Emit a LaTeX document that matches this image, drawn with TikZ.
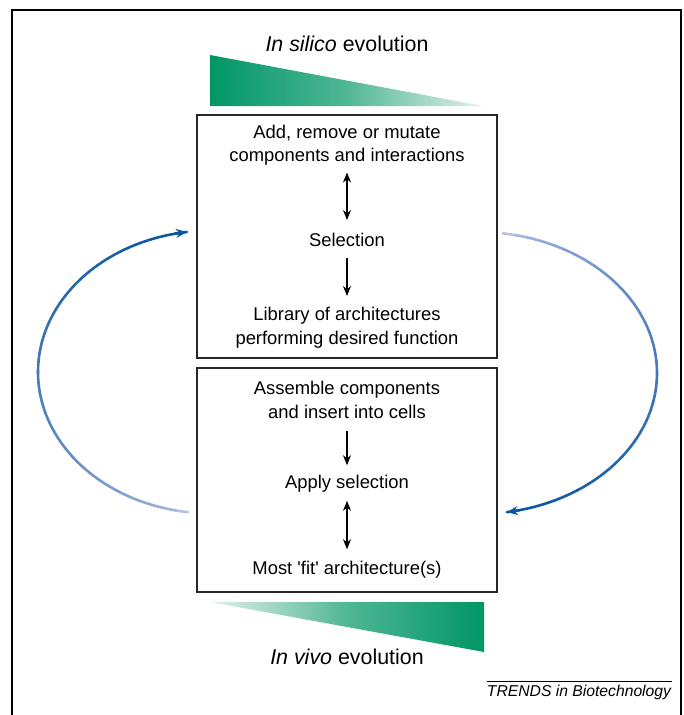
\documentclass[tikz,border=0pt]{standalone}
\usepackage{fontspec}
\setmainfont{Liberation Sans}
\usetikzlibrary{arrows.meta,positioning}

\definecolor{evogreen}{RGB}{0,150,102}
\definecolor{evopale}{RGB}{228,242,235}
\definecolor{loopblue}{RGB}{10,85,160}
\definecolor{looppale}{RGB}{182,192,228}

\tikzset{
  stage/.style={draw=black!85, line width=1.3pt, inner sep=0pt},
  steptext/.style={align=center, inner sep=0pt, font=\fontsize{18.4}{23.5}\selectfont},
  flow/.style={-{Stealth[length=10pt,width=8pt]}, line width=1.2pt},
  twoway/.style={{Stealth[length=10pt,width=8pt]}-{Stealth[length=10pt,width=8pt]}, line width=1.2pt},
}

\begin{document}
\begin{tikzpicture}[x=1pt,y=-1pt]
  \useasboundingbox (0,0) rectangle (684,715);
  % outer frame, open at the bottom
  \draw[line width=1.5pt] (12,715) -- (12,10) -- (681,10) -- (681,715);

  % the two stages
  \node[stage, minimum width=300pt, minimum height=243pt] (silico) at (347,236.5) {};
  \node[stage, minimum width=300pt, minimum height=224pt] (vivo) at (347,480) {};

  % wedges
  \shade[left color=evogreen, right color=evopale, middle color=evogreen!65!evopale] (210,55) -- (210,106) -- (483,106) -- cycle;
  \shade[left color=evopale, right color=evogreen, middle color=evogreen!65!evopale] (210,602) -- (484,602) -- (484,652) -- cycle;
  \node[font=\fontsize{21.4}{25}\selectfont] (silicolabel) at (347,44) {\textit{In silico} evolution};
  \node[font=\fontsize{21.4}{25}\selectfont] (vivolabel) at (347,657) {\textit{In vivo} evolution};

  % steps in silico
  \node[steptext] (mutate) at (347,145) {Add, remove or mutate\\components and interactions};
  \node[steptext] (select) at (347,240) {Selection};
  \node[steptext] (library) at (347,327.5) {Library of architectures\\performing desired function};
  \draw[twoway, shorten <=7pt, shorten >=13pt] (mutate) -- (select);
  \draw[flow, shorten <=11pt, shorten >=11pt] (select) -- (library);

  % steps in vivo
  \node[steptext] (assemble) at (347,400) {Assemble components\\and insert into cells};
  \node[steptext] (apply) at (347,484) {Apply selection};
  \node[steptext] (fittest) at (347,570) {Most \textquotesingle fit\textquotesingle{} architecture(s)};
  \draw[flow, shorten <=12pt, shorten >=10pt] (assemble) -- (apply);
  \draw[twoway, shorten <=8pt, shorten >=12pt] (apply) -- (fittest);

  % feedback loops, fading from pale to blue
  \foreach \i in {0,...,39}{
    \pgfmathsetmacro{\pct}{100*(\i/39)^0.6}
    \pgfmathsetmacro{\a}{97.6+\i*(262-97.6)/40}
    \pgfmathsetmacro{\b}{97.6+(\i+1)*(262-97.6)/40}
    \draw[loopblue!\pct!looppale, line width=2.6pt, line cap=round]
      plot[domain=\a:\b, samples=4] ({211+173*cos(\x)},{372+141.4*sin(\x)});
    \pgfmathsetmacro{\c}{278+\i*(440.7-278)/40}
    \pgfmathsetmacro{\d}{278+(\i+1)*(440.7-278)/40}
    \draw[loopblue!\pct!looppale, line width=2.6pt, line cap=round]
      plot[domain=\c:\d, samples=4] ({478+179*cos(\x)},{373+141*sin(\x)});
  }
  \draw[loopblue, line width=2.6pt, -{Stealth[length=11pt,width=9pt]}]
    plot[domain=258:262, samples=3] ({211+173*cos(\x)},{372+141.4*sin(\x)});
  \draw[loopblue, line width=2.6pt, -{Stealth[length=11pt,width=9pt]}]
    plot[domain=436.7:440.7, samples=3] ({478+179*cos(\x)},{373+141*sin(\x)});

  % journal tag
  \node[font=\fontsize{15.7}{18}\selectfont\itshape, inner xsep=0pt, inner ysep=3pt] (trends) at (579,692) {TRENDS in Biotechnology};
  \draw[line width=0.6pt] (trends.north west) -- ([xshift=1pt]trends.north east);
\end{tikzpicture}
\end{document}
